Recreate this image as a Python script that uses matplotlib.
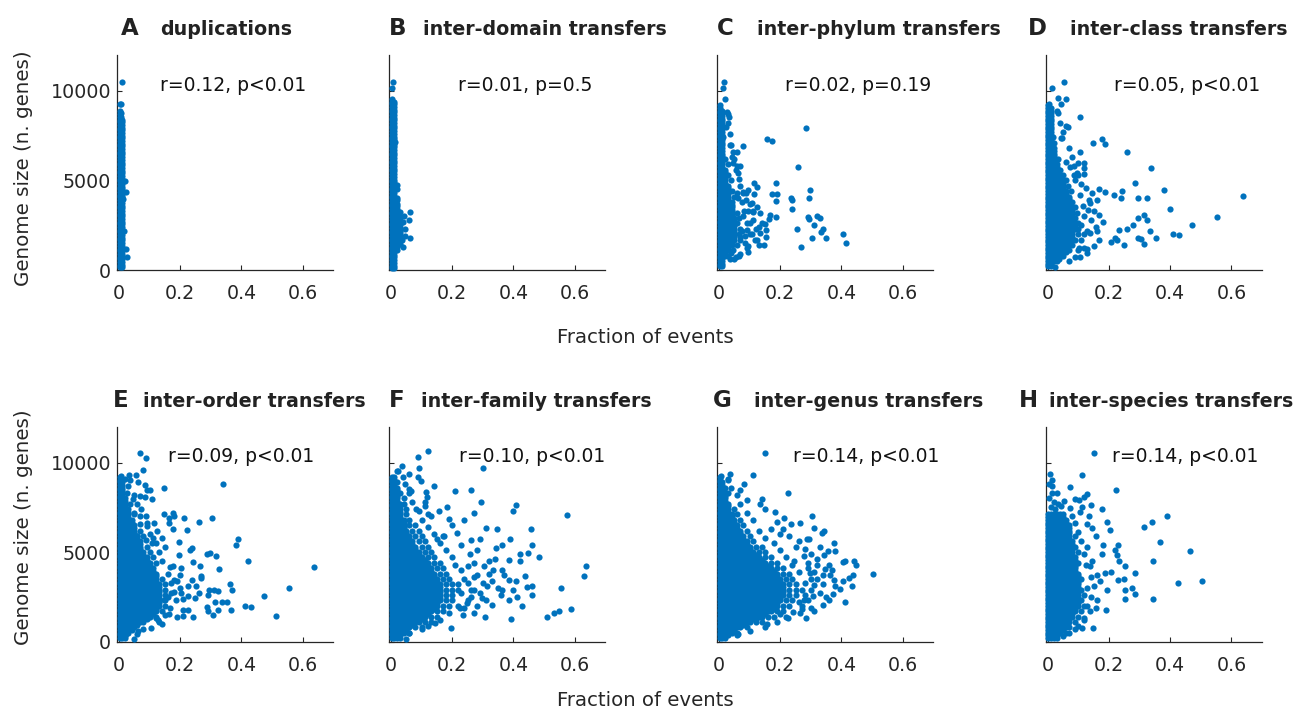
import matplotlib
matplotlib.use("Agg")
import matplotlib.pyplot as plt

# ---------------- data ----------------
letters = ["A", "B", "C", "D", "E", "F", "G", "H"]
titles = ["duplications", "inter-domain transfers", "inter-phylum transfers",
          "inter-class transfers", "inter-order transfers", "inter-family transfers",
          "inter-genus transfers", "inter-species transfers"]
stats = ["r=0.12, p<0.01", "r=0.01, p=0.5", "r=0.02, p=0.19", "r=0.05, p<0.01",
         "r=0.09, p<0.01", "r=0.10, p<0.01", "r=0.14, p<0.01", "r=0.14, p<0.01"]
xtick_vals = [0, 0.2, 0.4, 0.6]
xtick_labels = ["0", "0.2", "0.4", "0.6"]
ytick_vals = [0, 5000, 10000]
ytick_labels = ["0", "5000", "10000"]

# fraction positions used in the packed (solid) part of each cloud
cols = [.002, .011, .021, .031, .041, .05, .06, .07, .08, .09, .1, .11, .12, .13,
        .14, .15, .16, .17, .18, .19, .2, .21, .22, .23, .24, .25]

# solid parts of the clouds: (genome size, number of packed columns)
core_A = [(150, 2), (300, 2), (450, 2), (600, 2), (750, 2), (900, 2), (1050, 2), (1200, 2),
          (1350, 2), (1500, 2), (1650, 2), (1800, 2), (1950, 2), (2100, 2), (2250, 2),
          (2400, 2), (2550, 2), (2700, 2), (2850, 2), (3000, 2), (3150, 2), (3300, 2),
          (3450, 2), (3600, 2), (3750, 2), (3900, 2), (4050, 2), (4200, 2), (4350, 2),
          (4500, 2), (4650, 2), (4800, 2), (4950, 2), (5100, 2), (5250, 2), (5400, 2),
          (5550, 2), (5700, 2), (5850, 2), (6000, 2), (6150, 2), (6300, 2), (6450, 2),
          (6600, 2), (6750, 2), (6900, 2), (7050, 2), (7200, 2), (7350, 2), (7500, 2),
          (7650, 2), (7800, 2), (7950, 2), (8100, 2), (8250, 2), (8400, 2), (8550, 1),
          (8700, 1), (8850, 1), (9260, 1)]
out_A = [(.025, 750), (.023, 1150), (.016, 2150), (.014, 3950), (.023, 4350), (.02, 4950),
         (.008, 8550), (.008, 8750), (.008, 9260), (.011, 10500)]

core_B = [(100, 2), (250, 2), (400, 2), (550, 2), (700, 2), (850, 2), (1000, 2), (1150, 2),
          (1300, 3), (1450, 4), (1600, 3), (1750, 4), (1900, 4), (2050, 4), (2200, 4),
          (2350, 4), (2500, 4), (2650, 3), (2800, 4), (2950, 4), (3100, 3), (3250, 4),
          (3400, 3), (3550, 3), (3700, 3), (3850, 2), (4000, 3), (4150, 2), (4300, 2),
          (4450, 2), (4600, 2), (4750, 3), (4900, 2), (5050, 2), (5200, 2), (5350, 2),
          (5500, 2), (5650, 2), (5800, 2), (5950, 2), (6100, 2), (6250, 2), (6400, 2),
          (6550, 2), (6700, 2), (6850, 2), (7000, 2), (7150, 2), (7300, 2), (7450, 2),
          (7600, 2), (7750, 2), (7900, 2), (8050, 2), (8200, 2), (8350, 2), (8500, 2),
          (8650, 2), (8800, 2), (8950, 2), (9100, 2), (9250, 2), (9400, 2), (9550, 1)]
out_B = [(.021, 1100), (.04, 1300), (.035, 1700), (.062, 1800), (.045, 1900), (.045, 2300),
         (.04, 2700), (.059, 2800), (.043, 3000), (.062, 3220), (.021, 3900), (.019, 4500),
         (.013, 7160), (.008, 9300), (.004, 10140), (.005, 10500)]

core_C = [(200, 2), (350, 2), (500, 2), (650, 2), (800, 3), (950, 3), (1100, 4), (1250, 4),
          (1400, 5), (1550, 5), (1700, 6), (1850, 6), (2000, 6), (2150, 6), (2300, 6),
          (2450, 6), (2600, 6), (2750, 6), (2900, 6), (3050, 5), (3200, 5), (3350, 5),
          (3500, 5), (3650, 5), (3800, 5), (3950, 4), (4100, 4), (4250, 4), (4400, 4),
          (4550, 4), (4700, 4), (4850, 3), (5000, 3), (5150, 3), (5300, 3), (5450, 3),
          (5600, 3), (5750, 2), (5900, 2), (6050, 2), (6200, 2), (6350, 2), (6500, 2),
          (6650, 2), (6800, 2), (6950, 2), (7100, 2), (7250, 2), (7400, 2), (7550, 2),
          (7700, 2), (7850, 2), (8000, 2), (8150, 2), (8300, 2), (8450, 2), (8600, 2),
          (8750, 2), (8900, 2), (9050, 1), (9200, 1)]
out_C = [(.03, 800), (.045, 1100), (.06, 1400), (.07, 1700), (.065, 2000), (.07, 2300),
         (.06, 2600), (.065, 2900), (.06, 3200), (.05, 4100), (.041, 4400), (.038, 5000),
         (.031, 5300), (.028, 5900), (.021, 6200),
         (.017, 10509), (.012, 10137), (.021, 9523), (.031, 8686), (.034, 8519), (.023, 7961),
         (.014, 7440), (.285, 7924), (.158, 7328), (.173, 7180), (.078, 6919), (.036, 6975),
         (.058, 6603), (.041, 6324), (.069, 5822), (.045, 5952), (.063, 5394), (.258, 5729),
         (.186, 4836), (.116, 4873), (.123, 4613), (.096, 4464), (.298, 4464), (.173, 4241),
         (.189, 4241), (.293, 4036), (.236, 3999), (.238, 3906), (.186, 3850), (.089, 3906),
         (.107, 3757), (.061, 3999), (.058, 4315), (.238, 3385), (.082, 3311), (.111, 3218),
         (.134, 3162), (.167, 3069), (.321, 3013), (.291, 2976), (.293, 2827), (.331, 2883),
         (.311, 2511), (.187, 2976), (.162, 2827), (.150, 2567), (.255, 2288), (.340, 2269),
         (.334, 2139), (.154, 2232), (.130, 2418), (.134, 2046), (.107, 1990), (.154, 1860),
         (.148, 1395), (.304, 1767), (.350, 1767), (.405, 2009), (.415, 1488), (.269, 1302),
         (.093, 1209), (.069, 874), (.056, 744), (.036, 595), (.038, 930), (.096, 1339),
         (.118, 1674), (.090, 2232), (.069, 1860), (.102, 2604), (.123, 3534), (.080, 4371),
         (.089, 4278), (.115, 4222), (.08, 3000), (.09, 2600), (.1, 2000), (.085, 1500),
         (.075, 3800), (.095, 3300), (.11, 2800), (.12, 2300), (.1, 3700), (.08, 4300),
         (.065, 5100), (.055, 5600), (.05, 6200), (.04, 7000), (.035, 7600), (.03, 8200),
         (.025, 8800), (.065, 800), (.05, 600), (.13, 1400), (.14, 2600), (.095, 1000),
         (.075, 2200), (.085, 1900), (.07, 4700), (.06, 5800), (.045, 6600), (.11, 3300),
         (.125, 1700)]

core_D = [(200, 2), (350, 2), (500, 3), (650, 4), (800, 5), (950, 6), (1100, 7), (1250, 7),
          (1400, 8), (1550, 8), (1700, 9), (1850, 9), (2000, 9), (2150, 9), (2300, 10),
          (2450, 10), (2600, 10), (2750, 9), (2900, 9), (3050, 9), (3200, 9), (3350, 9),
          (3500, 9), (3650, 8), (3800, 8), (3950, 8), (4100, 8), (4250, 7), (4400, 7),
          (4550, 6), (4700, 6), (4850, 6), (5000, 6), (5150, 5), (5300, 5), (5450, 4),
          (5600, 4), (5750, 4), (5900, 4), (6050, 3), (6200, 3), (6350, 3), (6500, 3),
          (6650, 3), (6800, 3), (6950, 2), (7100, 2), (7250, 2), (7400, 2), (7550, 2),
          (7700, 2), (7850, 2), (8000, 2), (8150, 2), (8300, 2), (8450, 2), (8600, 2),
          (8750, 2), (8900, 2), (9050, 2), (9200, 1)]
out_D = [(.031, 500), (.05, 800), (.07, 1100), (.08, 1400), (.09, 1700), (.1, 2000),
         (.1, 2300), (.1, 2600), (.09, 2900), (.095, 3200), (.09, 3500), (.08, 3800),
         (.075, 4400), (.065, 4700), (.06, 5000), (.05, 5300), (.041, 5600), (.035, 6200),
         (.02, 7100), (.018, 7400),
         (.054, 10509), (.015, 10137), (.060, 9523), (.043, 9244), (.005, 9244), (.035, 8742),
         (.104, 8556), (.060, 8035), (.067, 7998), (.043, 7384), (.048, 7384), (.177, 7291),
         (.148, 7105), (.186, 7031), (.259, 6603), (.104, 6566), (.060, 6045), (.119, 5952),
         (.338, 5710), (.073, 5729), (.097, 5394), (.085, 5301), (.120, 5357), (.286, 4836),
         (.379, 4464), (.166, 4501), (.188, 4371), (.243, 4408), (.638, 4148), (.215, 4185),
         (.295, 4036), (.325, 4036), (.241, 4036), (.398, 3385), (.554, 2976), (.316, 3069),
         (.295, 2883), (.325, 2790), (.472, 2511), (.259, 2288), (.232, 2232), (.278, 2511),
         (.334, 2176), (.410, 2009), (.429, 1953), (.295, 1767), (.306, 1711), (.354, 1767),
         (.314, 1451), (.249, 1395), (.207, 1544), (.219, 1767), (.228, 1674), (.150, 1358),
         (.128, 967), (.104, 744), (.060, 1023), (.038, 595), (.024, 186), (.011, 279),
         (.182, 2697), (.167, 3069), (.138, 3720), (.133, 3348), (.161, 3906), (.157, 2418),
         (.138, 2046), (.166, 1674), (.117, 1209), (.101, 1209), (.11, 2500), (.12, 3000),
         (.13, 2200), (.115, 3600), (.105, 4200), (.125, 4600), (.14, 2800), (.11, 1700),
         (.09, 5000), (.1, 5300), (.12, 5700), (.08, 6300), (.07, 6800), (.05, 7700), (.04, 8200),
         (.03, 8900), (.12, 2000), (.135, 3900), (.15, 3300), (.145, 4300), (.16, 2200),
         (.13, 1200), (.09, 700), (.07, 500), (.1, 1100), (.11, 4800), (.1, 6000), (.085, 5800),
         (.035, 9600)]

core_E = [(200, 3), (350, 3), (500, 4), (650, 5), (800, 6), (950, 7), (1100, 9), (1250, 10),
          (1400, 11), (1550, 12), (1700, 13), (1850, 13), (2000, 14), (2150, 14), (2300, 14),
          (2450, 14), (2600, 14), (2750, 14), (2900, 14), (3050, 14), (3200, 14), (3350, 13),
          (3500, 13), (3650, 13), (3800, 13), (3950, 12), (4100, 12), (4250, 11), (4400, 11),
          (4550, 10), (4700, 10), (4850, 9), (5000, 9), (5150, 8), (5300, 8), (5450, 8),
          (5600, 8), (5750, 7), (5900, 7), (6050, 6), (6200, 6), (6350, 6), (6500, 6),
          (6650, 5), (6800, 5), (6950, 4), (7100, 4), (7250, 4), (7400, 4), (7550, 3),
          (7700, 3), (7850, 3), (8000, 3), (8150, 2), (8300, 2), (8450, 2), (8600, 2),
          (8750, 2), (8900, 2), (9050, 1), (9200, 1)]
out_E = [(.12, 1400), (.14, 1700), (.15, 2000), (.15, 2300), (.15, 2600), (.15, 2900),
         (.15, 3200), (.14, 3500), (.12, 4400), (.11, 4700), (.1, 5000), (.09, 5300),
         (.08, 5900), (.07, 6200), (.05, 7100), (.035, 7700), (.025, 8300),
         (.068, 10528), (.087, 10229), (.079, 9593), (.008, 9257), (.033, 9313), (.055, 9313),
         (.035, 9013), (.063, 8920), (.084, 8733), (.093, 8452), (.102, 8452), (.148, 8602),
         (.341, 8826), (.069, 8134), (.109, 7948), (.046, 7985), (.084, 8097), (.071, 7424),
         (.049, 7200), (.087, 7013), (.148, 7106), (.162, 6919), (.178, 7200), (.180, 7013),
         (.211, 6919), (.303, 6919), (.260, 6676), (.115, 6639), (.162, 6639), (.068, 6545),
         (.093, 6452), (.177, 6265), (.221, 6208), (.139, 5797), (.087, 5704), (.060, 5891),
         (.109, 5517), (.388, 5741), (.383, 5423), (.195, 5573), (.233, 5143), (.238, 5236),
         (.197, 4862), (.287, 4918), (.298, 4956), (.317, 4768), (.423, 4488), (.636, 4170),
         (.243, 4432), (.326, 4058), (.265, 4208), (.202, 4114), (.167, 4152), (.268, 3684),
         (.200, 3703), (.238, 3460), (.361, 3235), (.268, 3553), (.555, 2992), (.293, 2899),
         (.311, 2899), (.324, 2842), (.368, 2861), (.262, 2712), (.290, 2618), (.249, 2431),
         (.314, 2207), (.336, 2188), (.352, 2188), (.366, 1777), (.410, 2020), (.432, 1964),
         (.473, 2525), (.514, 1440), (.286, 1926), (.290, 1739), (.308, 1496), (.325, 1777),
         (.243, 1403), (.208, 1459), (.226, 1777), (.188, 1403), (.164, 1552), (.142, 991),
         (.104, 748), (.062, 617), (.049, 131), (.019, 318), (.027, 468), (.126, 1216),
         (.208, 1777), (.202, 2712), (.224, 3086), (.180, 3460), (.169, 2712), (.148, 2338),
         (.224, 2525), (.251, 3086), (.16, 3800), (.17, 3300), (.16, 2500), (.165, 1900),
         (.15, 1500), (.13, 1100), (.14, 4500), (.13, 5000), (.12, 5500), (.1, 6000), (.09, 6600),
         (.07, 7000), (.06, 7700), (.05, 8200), (.03, 8700), (.02, 9100), (.12, 1300),
         (.18, 2800), (.19, 3400), (.175, 4200), (.08, 700), (.06, 450), (.11, 5800),
         (.125, 6200), (.15, 5300), (.185, 2300), (.2, 3000), (.21, 2400)]

core_F = [(200, 3), (350, 4), (500, 5), (650, 6), (800, 7), (950, 8), (1100, 10), (1250, 11),
          (1400, 12), (1550, 13), (1700, 14), (1850, 15), (2000, 16), (2150, 16), (2300, 17),
          (2450, 17), (2600, 17), (2750, 17), (2900, 17), (3050, 17), (3200, 17), (3350, 16),
          (3500, 16), (3650, 15), (3800, 15), (3950, 14), (4100, 14), (4250, 13), (4400, 13),
          (4550, 12), (4700, 11), (4850, 10), (5000, 10), (5150, 9), (5300, 9), (5450, 8),
          (5600, 8), (5750, 7), (5900, 7), (6050, 6), (6200, 6), (6350, 5), (6500, 5),
          (6650, 5), (6800, 5), (6950, 4), (7100, 4), (7250, 4), (7400, 4), (7550, 4),
          (7700, 4), (7850, 3), (8000, 3), (8150, 3), (8300, 3), (8450, 3), (8600, 3),
          (8750, 2), (8900, 2), (9050, 2), (9200, 2)]
out_F = [(.03, 200), (.06, 500), (.08, 800), (.1, 800), (.11, 1100), (.13, 1100), (.13, 1400),
         (.15, 1400), (.15, 1700), (.17, 1700), (.17, 2000), (.19, 2000), (.18, 2300),
         (.2, 2300), (.18, 2600), (.2, 2600), (.18, 2900), (.2, 2900), (.22, 2900), (.18, 3200),
         (.2, 3200), (.17, 3500), (.19, 3500), (.16, 3800), (.18, 3800), (.15, 4100),
         (.17, 4100), (.14, 4400), (.16, 4400), (.12, 4700), (.14, 4700), (.11, 5000),
         (.13, 5000), (.1, 5300), (.12, 5300), (.09, 5600), (.11, 5600), (.08, 5900),
         (.1, 5900), (.07, 6200), (.09, 6200), (.06, 6500), (.08, 6500), (.06, 6800),
         (.05, 7100), (.05, 7400), (.041, 7700), (.041, 8000), (.031, 8300), (.021, 8900),
         (.120, 10659), (.087, 10322), (.301, 9668), (.035, 9781), (.024, 9500), (.059, 9369),
         (.093, 9687), (.087, 9182), (.142, 8715), (.097, 8995), (.066, 8434), (.059, 8303),
         (.114, 8341), (.117, 8060), (.210, 8434), (.262, 8471), (.112, 7817), (.082, 7406),
         (.294, 7817), (.409, 7630), (.399, 7312), (.183, 7537), (.158, 7312), (.190, 6845),
         (.122, 7125), (.576, 7088), (.311, 6321), (.346, 6265), (.214, 6077), (.458, 6265),
         (.172, 5890), (.150, 5741), (.292, 5760), (.363, 5423), (.388, 5760), (.461, 5386),
         (.448, 4956), (.343, 5236), (.281, 5105), (.259, 4918), (.423, 4918), (.485, 4731),
         (.387, 4544), (.421, 4488), (.319, 4488), (.636, 4208), (.630, 3684), (.303, 4245),
         (.363, 4021), (.333, 4021), (.439, 3647), (.387, 3460), (.407, 3366), (.399, 2861),
         (.443, 3048), (.461, 3086), (.554, 2992), (.363, 2899), (.459, 2618), (.412, 2468),
         (.387, 2338), (.330, 2057), (.270, 1590), (.428, 2001), (.510, 1403), (.534, 1590),
         (.549, 1739), (.589, 1814), (.393, 1253), (.308, 1403), (.196, 748), (.144, 1029),
         (.235, 1496), (.049, 131), (.248, 2151), (.297, 2431), (.226, 1907), (.270, 2899),
         (.314, 3086), (.22, 3200), (.23, 2700), (.24, 3500), (.22, 2000), (.21, 4300),
         (.2, 4700), (.25, 2300), (.26, 2900), (.23, 4000), (.18, 5100), (.16, 5500), (.14, 6000),
         (.12, 6400), (.1, 6800), (.09, 7300), (.07, 7800), (.06, 8500), (.045, 8800),
         (.04, 9200), (.02, 9500), (.19, 1600), (.16, 1200), (.12, 900), (.1, 700), (.06, 500),
         (.27, 3600), (.25, 4200), (.17, 5900), (.13, 7000), (.11, 7600), (.25, 3300),
         (.28, 3700), (.3, 3300), (.32, 3800), (.27, 4400), (.29, 2700), (.31, 2300),
         (.33, 3400), (.35, 3000), (.26, 2500), (.24, 1900), (.28, 2000), (.34, 4600),
         (.37, 3700), (.36, 2600), (.23, 5400), (.26, 5700), (.2, 6500), (.24, 6800), (.27, 7200)]

core_G = [(200, 3), (350, 4), (500, 5), (650, 6), (800, 8), (950, 9), (1100, 11), (1250, 13),
          (1400, 15), (1550, 16), (1700, 18), (1850, 19), (2000, 20), (2150, 20), (2300, 21),
          (2450, 21), (2600, 22), (2750, 22), (2900, 22), (3050, 22), (3200, 22), (3350, 21),
          (3500, 21), (3650, 20), (3800, 20), (3950, 19), (4100, 18), (4250, 17), (4400, 16),
          (4550, 15), (4700, 14), (4850, 13), (5000, 12), (5150, 11), (5300, 11), (5450, 10),
          (5600, 10), (5750, 9), (5900, 9), (6050, 8), (6200, 8), (6350, 7), (6500, 7),
          (6650, 6), (6800, 6), (6950, 5), (7100, 5), (7250, 4), (7400, 4), (7550, 4),
          (7700, 4), (7850, 3), (8000, 3), (8150, 3), (8300, 3), (8450, 2), (8600, 2),
          (8750, 2), (8900, 2), (9050, 1), (9200, 1)]
out_G = [(.06, 500), (.09, 800), (.12, 1100), (.14, 1100), (.16, 1400), (.18, 1400),
         (.19, 1700), (.21, 1700), (.21, 2000), (.23, 2000), (.22, 2300), (.24, 2300),
         (.23, 2600), (.25, 2600), (.23, 2900), (.25, 2900), (.23, 3200), (.25, 3200),
         (.22, 3500), (.24, 3500), (.21, 3800), (.23, 3800), (.19, 4100), (.21, 4100),
         (.17, 4400), (.19, 4400), (.15, 4700), (.17, 4700), (.13, 5000), (.15, 5000),
         (.12, 5300), (.14, 5300), (.11, 5600), (.1, 5900), (.09, 6200), (.08, 6500),
         (.07, 6800), (.06, 7100), (.05, 7400), (.031, 8300), (.021, 8600),
         (.149, 10528), (.110, 9294), (.036, 9350), (.007, 9257), (.031, 9070), (.083, 8789),
         (.227, 8321), (.069, 8471), (.093, 7891), (.142, 7985), (.134, 7667), (.149, 7386),
         (.183, 7237), (.304, 7013), (.211, 6919), (.189, 6676), (.266, 6601), (.235, 6582),
         (.311, 6358), (.344, 6171), (.338, 6040), (.287, 5760), (.295, 5760), (.200, 6021),
         (.375, 5517), (.331, 5292), (.356, 5049), (.380, 5049), (.342, 4862), (.413, 4488),
         (.440, 4488), (.449, 4301), (.404, 4432), (.504, 3796), (.438, 3740), (.424, 3553),
         (.405, 3366), (.375, 3460), (.364, 3740), (.347, 4077), (.395, 2955), (.435, 3123),
         (.311, 3142), (.372, 2655), (.410, 2207), (.340, 2057), (.358, 2300), (.309, 1720),
         (.284, 1309), (.266, 1627), (.243, 1646), (.225, 1309), (.200, 1533), (.158, 991),
         (.063, 430), (.307, 2524), (.277, 2338), (.298, 3834), (.320, 4301), (.244, 4488),
         (.277, 4768), (.26, 2200), (.27, 2900), (.28, 3300), (.26, 3900), (.24, 4300),
         (.22, 4700), (.2, 5100), (.18, 5500), (.15, 5800), (.13, 6200), (.11, 6800), (.09, 7200),
         (.07, 7700), (.06, 8200), (.04, 8600), (.03, 9000), (.22, 1400), (.19, 1100),
         (.15, 800), (.1, 600), (.06, 350), (.28, 2600), (.3, 3500), (.29, 4100), (.25, 5300),
         (.17, 6300), (.27, 1800), (.3, 2900), (.32, 3500), (.29, 4400), (.31, 3900),
         (.34, 3200), (.33, 2700), (.36, 4300), (.28, 5200), (.26, 5600), (.23, 5900),
         (.21, 6300), (.3, 4900), (.32, 4600), (.27, 2000), (.3, 1900), (.29, 2300),
         (.34, 3700), (.35, 2500), (.38, 3100), (.37, 4000)]

core_H = [(200, 3), (350, 4), (500, 5), (650, 6), (800, 7), (950, 7), (1100, 8), (1250, 8),
          (1400, 9), (1550, 9), (1700, 10), (1850, 10), (2000, 11), (2150, 11), (2300, 12),
          (2450, 11), (2600, 11), (2750, 11), (2900, 12), (3050, 11), (3200, 11), (3350, 11),
          (3500, 12), (3650, 11), (3800, 11), (3950, 10), (4100, 10), (4250, 10), (4400, 11),
          (4550, 10), (4700, 10), (4850, 9), (5000, 9), (5150, 9), (5300, 10), (5450, 9),
          (5600, 9), (5750, 8), (5900, 8), (6050, 8), (6200, 8), (6350, 8), (6500, 8),
          (6650, 7), (6800, 7), (6950, 6), (7100, 6)]
out_H = [(.031, 200), (.06, 500), (.07, 800), (.09, 1100), (.1, 1400), (.11, 1700),
         (.12, 2000), (.12, 2600), (.1, 5000), (.09, 5900),
         (.150, 10528), (.111, 9294), (.008, 9350), (.013, 8696), (.073, 8658), (.013, 8322),
         (.224, 8471), (.128, 8228), (.120, 8097), (.101, 7910), (.088, 7985), (.054, 7854),
         (.044, 7574), (.073, 7480), (.111, 7536), (.142, 7611), (.177, 7386), (.136, 7013),
         (.104, 7237), (.390, 7013), (.341, 6695), (.316, 6395), (.193, 6676), (.205, 6227),
         (.146, 6358), (.128, 6545), (.366, 5573), (.158, 5891), (.464, 5049), (.182, 5386),
         (.230, 5423), (.221, 5143), (.227, 4862), (.179, 4899), (.344, 4488), (.232, 4488),
         (.251, 4208), (.284, 3834), (.207, 3871), (.229, 3460), (.248, 3497), (.426, 3273),
         (.503, 3403), (.193, 2861), (.254, 2861), (.275, 2992), (.284, 2655), (.254, 2394),
         (.343, 2375), (.190, 1777), (.139, 1720), (.158, 1870), (.148, 748), (.111, 748),
         (.090, 692), (.117, 1216), (.172, 3366), (.161, 3740), (.139, 4208), (.188, 3834),
         (.01, 7500), (.02, 7800), (.005, 8000), (.03, 8300), (.025, 7400), (.035, 7700),
         (.015, 9000), (.004, 8800), (.13, 2000), (.14, 2500), (.13, 3000), (.14, 3600),
         (.125, 4300), (.12, 4900), (.11, 5600), (.1, 6100), (.09, 6600), (.08, 7000),
         (.15, 3100), (.16, 2300), (.12, 1300), (.1, 900), (.07, 500), (.05, 300), (.13, 5300),
         (.145, 4500)]

cores = [core_A, core_B, core_C, core_D, core_E, core_F, core_G, core_H]
outs = [out_A, out_B, out_C, out_D, out_E, out_F, out_G, out_H]

# ---------------- layout ----------------
W, H = 1303, 709
fig = plt.figure(figsize=(W / 100, H / 100), dpi=100)
BLUE = "#0072BD"
DARK = "#262626"

lefts = [117.3, 389.3, 717.3, 1046.0]
tops = [55.0, 426.7]
AW, AH = 216.0, 215.0

letter_x = [121, 389.3, 717.3, 1027.7, 113.3, 389.3, 712.7, 1019.3]
title_x = [160, 422.7, 756.7, 1070, 143.3, 420.7, 754.3, 1049.3]
title_base = [35, 407]
stat_x = [160, 457.7, 785, 1114, 168.3, 459.3, 792.7, 1111.7]
stat_base = [90.7, 461.5]


def fx(px):
    return px / W


def fy(py):
    return 1 - py / H


for i in range(8):
    row, col = divmod(i, 4)
    ax = fig.add_axes([fx(lefts[col]), fy(tops[row] + AH), AW / W, AH / H])
    xs, ys = [], []
    for yv, n in cores[i]:
        for xv in cols[:n]:
            xs.append(xv)
            ys.append(yv)
    for xv, yv in outs[i]:
        xs.append(xv)
        ys.append(yv)
    ax.scatter(xs, ys, s=20, c=BLUE, linewidths=0, zorder=3, clip_on=False)
    ax.set_xlim(-0.0055, 0.7)
    ax.set_ylim(0, 12000)
    ax.set_xticks(xtick_vals)
    ax.set_xticklabels(xtick_labels)
    ax.set_yticks(ytick_vals)
    ax.set_yticklabels(ytick_labels if col == 0 else [""] * 3)
    for s in ("top", "right"):
        ax.spines[s].set_visible(False)
    for s in ("left", "bottom"):
        ax.spines[s].set_color(DARK)
        ax.spines[s].set_linewidth(0.9)
    ax.tick_params(direction="in", length=3.5, width=0.8, color=DARK,
                   labelcolor=DARK, labelsize=13.7)
    ax.tick_params(axis="x", pad=10)
    ax.tick_params(axis="y", pad=4.5)
    ax.patch.set_alpha(0)

    fig.text(fx(letter_x[i]), fy(title_base[row]), letters[i], fontsize=16.5,
             fontweight="bold", color="#222222", ha="left", va="baseline")
    fig.text(fx(title_x[i]), fy(title_base[row]), titles[i], fontsize=13.7,
             fontweight="bold", color="#222222", ha="left", va="baseline")
    fig.text(fx(stat_x[i]), fy(stat_base[row]), stats[i], fontsize=13.5,
             color="#111111", ha="left", va="baseline")

for row in range(2):
    fig.text(fx(645.5), fy([343, 706][row]), "Fraction of events", fontsize=14.2,
             color=DARK, ha="center", va="baseline")
    fig.text(fx(23.5), fy([168, 527][row]), "Genome size (n. genes)", fontsize=14.3,
             color=DARK, ha="center", va="center", rotation=90)

fig.savefig("out.png", dpi=100)
